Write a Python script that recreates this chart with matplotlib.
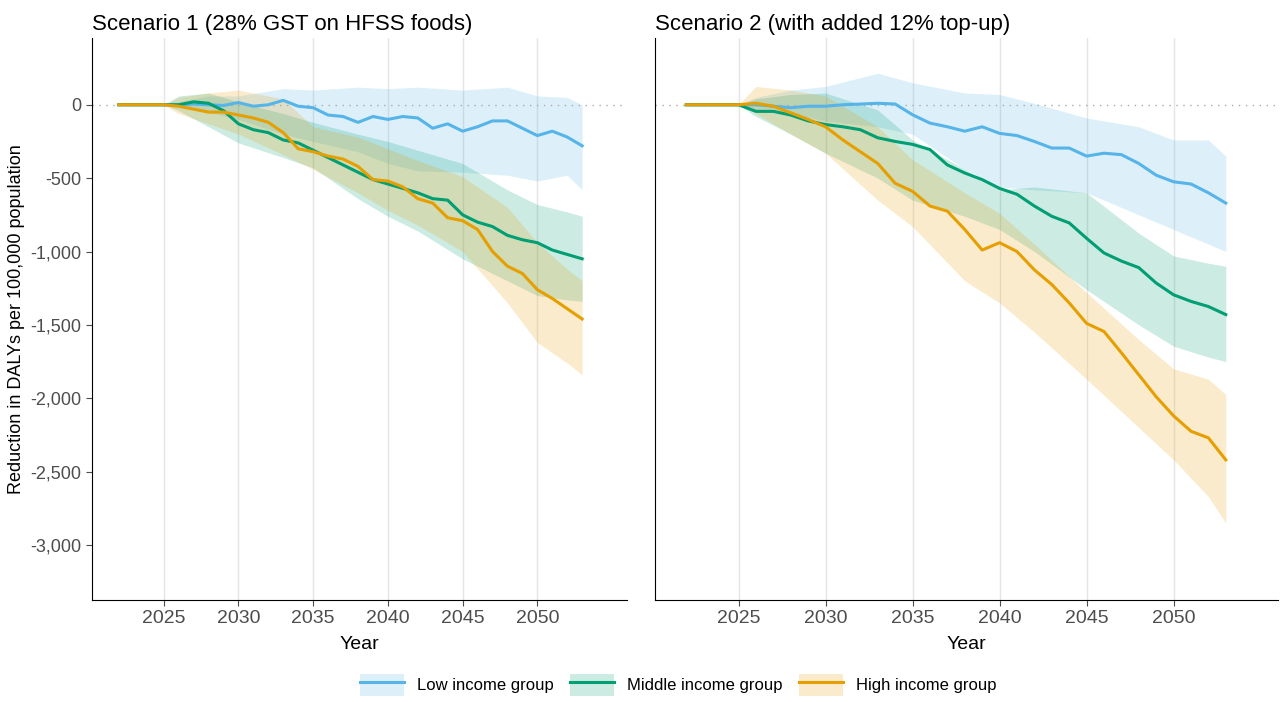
import numpy as np
import matplotlib.pyplot as plt
from matplotlib.patches import Patch
from matplotlib.lines import Line2D
from matplotlib.ticker import FuncFormatter

plt.rcParams['font.family'] = ['Liberation Sans', 'DejaVu Sans']

years = list(range(2022, 2054))

# Scenario 1 central estimates
s1_low = [0, 0, 0, 0, 0, 5, 0, -5, 15, -10, 0, 30, -10, -20, -70, -80, -120, -80, -100, -80,
          -90, -160, -130, -180, -150, -110, -110, -160, -210, -180, -220, -280]
s1_mid = [0, 0, 0, 0, 0, 20, 10, -40, -130, -170, -190, -240, -260, -310, -360, -410, -460, -510,
          -540, -570, -600, -640, -650, -750, -800, -830, -890, -920, -940, -990, -1020, -1050]
s1_high = [0, 0, 0, 0, -10, -30, -50, -50, -70, -90, -120, -190, -300, -320, -350, -370, -420, -510,
           -520, -560, -640, -670, -770, -790, -850, -1000, -1100, -1150, -1260, -1320, -1390, -1460]

# Scenario 2 central estimates
s2_low = [0, 0, 0, 0, 0, -10, -20, -10, -10, 0, 5, 10, 5, -68, -125, -150, -180, -150, -195, -210,
          -250, -295, -295, -350, -330, -340, -400, -480, -525, -540, -600, -670]
s2_mid = [0, 0, 0, 0, -45, -45, -70, -110, -135, -150, -170, -225, -250, -270, -305, -410, -465, -510,
          -570, -610, -690, -760, -805, -910, -1010, -1065, -1110, -1215, -1295, -1340, -1375, -1430]
s2_high = [0, 0, 0, 0, 10, -10, -55, -100, -150, -240, -320, -400, -535, -590, -690, -725, -850, -990,
           -940, -1000, -1125, -1225, -1350, -1490, -1545, -1690, -1840, -1990, -2120, -2225, -2270, -2420]

# uncertainty bands (read at selected years)
band_years = [2025, 2026, 2028, 2030, 2033, 2035, 2038, 2040, 2042, 2045, 2048, 2050, 2052, 2053]
s1_low_hi = [0, 20, 60, 60, 110, 100, 120, 110, 120, 100, 120, 60, 50, 0]
s1_low_lo = [0, -10, -50, -100, -200, -250, -320, -400, -450, -460, -480, -520, -480, -580]
s1_mid_hi = [0, 60, 80, 20, -60, -120, -200, -250, -310, -400, -580, -680, -730, -760]
s1_mid_lo = [0, -40, -150, -260, -360, -430, -640, -760, -860, -1050, -1200, -1300, -1330, -1340]
s1_high_hi = [0, 50, 80, 100, 40, -150, -220, -300, -380, -490, -700, -940, -1120, -1200]
s1_high_lo = [0, -60, -130, -200, -340, -440, -600, -720, -820, -1000, -1350, -1620, -1760, -1840]

s2_low_hi = [0, 50, 100, 125, 215, 150, 80, 70, 10, -90, -150, -240, -240, -350]
s2_low_lo = [0, -40, -60, -110, -150, -200, -440, -560, -580, -600, -750, -850, -950, -1000]
s2_mid_hi = [0, 40, 70, 80, -35, -240, -440, -580, -560, -600, -875, -1030, -1080, -1100]
s2_mid_lo = [0, -80, -200, -330, -500, -650, -760, -850, -1000, -1260, -1500, -1645, -1720, -1750]
s2_high_hi = [0, 125, 100, 60, -150, -375, -600, -740, -950, -1280, -1600, -1800, -1870, -1975]
s2_high_lo = [0, -60, -200, -330, -650, -830, -1200, -1350, -1550, -1870, -2200, -2420, -2670, -2850]

colors = {'low': '#56B4E9', 'mid': '#009E73', 'high': '#E69F00'}
labels = {'low': 'Low income group', 'mid': 'Middle income group', 'high': 'High income group'}

fig = plt.figure(figsize=(12.8, 7.02), dpi=100)
ax1 = fig.add_axes([92 / 1280, 1 - 600 / 702, 535 / 1280, 562 / 702])
ax2 = fig.add_axes([655 / 1280, 1 - 600 / 702, 623 / 1280, 562 / 702], sharey=ax1)

panels = [
    (ax1, 'Scenario 1 (28% GST on HFSS foods)',
     {'low': (s1_low, s1_low_lo, s1_low_hi), 'mid': (s1_mid, s1_mid_lo, s1_mid_hi),
      'high': (s1_high, s1_high_lo, s1_high_hi)}),
    (ax2, 'Scenario 2 (with added 12% top-up)',
     {'low': (s2_low, s2_low_lo, s2_low_hi), 'mid': (s2_mid, s2_mid_lo, s2_mid_hi),
      'high': (s2_high, s2_high_lo, s2_high_hi)}),
]

for ax, title, data in panels:
    for k in ['low', 'mid', 'high']:
        ax.fill_between(band_years, data[k][1], data[k][2], color=colors[k], alpha=0.2, lw=0)
    ax.axhline(0, color='#aaaaaa', ls=(0, (1, 4)), lw=1)
    for k in ['low', 'mid', 'high']:
        ax.plot(years, data[k][0], color=colors[k], lw=2.2)
    ax.set_title(title, loc='left', fontsize=16, pad=6, x=0.0)
    ax.set_xlim(2020.2, 2056)
    ax.set_xticks(range(2025, 2055, 5))
    ax.grid(axis='x', color='#e5e5e5', lw=1)
    ax.set_axisbelow(True)
    for s in ['top', 'right']:
        ax.spines[s].set_visible(False)
    ax.tick_params(axis='both', colors='#4d4d4d', labelsize=13, length=4)
    ax.tick_params(axis='x', labelsize=14)
    ax.set_xlabel('Year', fontsize=14, labelpad=6)

ax1.set_ylim(-3375, 455)
ax1.set_yticks(range(-3000, 1, 500))
ax1.yaxis.set_major_formatter(FuncFormatter(lambda v, p: f'{int(v):,}'))
ax1.set_ylabel('Reduction in DALYs per 100,000 population', fontsize=13)
ax2.tick_params(axis='y', labelleft=False, left=False)

handles = [(Patch(color=colors[k], alpha=0.2, lw=0), Line2D([], [], color=colors[k], lw=2.2))
           for k in ['low', 'mid', 'high']]
fig.legend(handles, [labels[k] for k in ['low', 'mid', 'high']], loc='center',
           bbox_to_anchor=(0.53, 1 - 685 / 702), ncol=3, frameon=False, fontsize=12,
           handlelength=2.6, handleheight=1.6, columnspacing=1.0)

fig.savefig('out.png', dpi=100)
